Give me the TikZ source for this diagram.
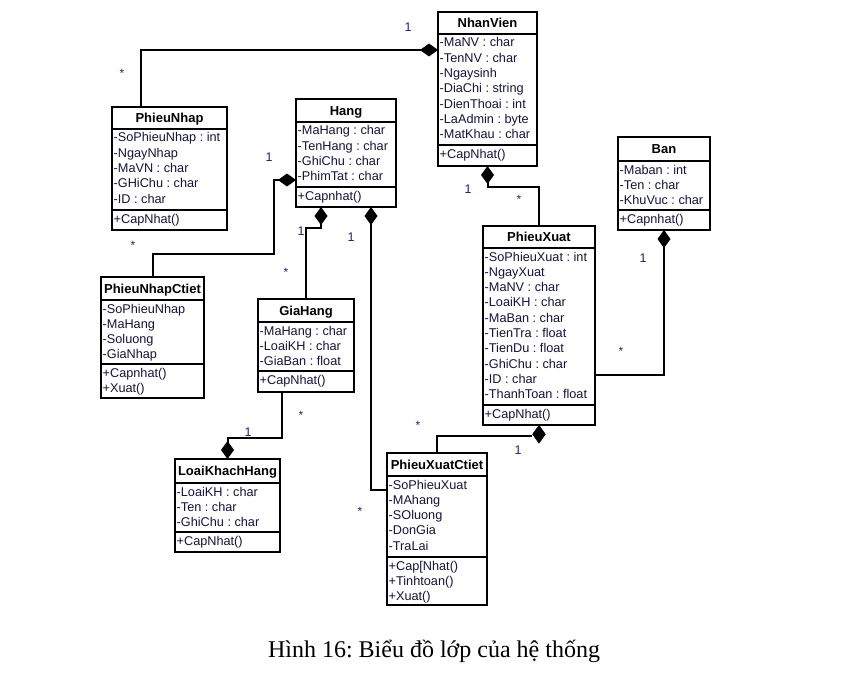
\documentclass[tikz,border=0pt]{standalone}
\usepackage{fontspec}
\setmainfont{Liberation Serif}
\newfontfamily\arialf{Liberation Sans}
\usetikzlibrary{arrows.meta,shapes.geometric,fit}
\definecolor{attrcol}{RGB}{20,20,60}
\definecolor{multcol}{RGB}{25,35,125}
\frenchspacing
\tikzset{
  classbox/.style={draw=black, line width=2pt, inner sep=0pt, outer sep=0pt},
  sepline/.style={draw=black, line width=2pt},
  titletext/.style={anchor=base, inner sep=0pt, font=\arialf\bfseries\fontsize{13}{15}\selectfont, text=black},
  rowtext/.style={anchor=base west, inner sep=0pt, font=\arialf\fontsize{12.7}{15}\selectfont, text=attrcol},
  conn/.style={draw=black, line width=2pt},
  compd/.style={diamond, fill=black, draw=black, line width=0.5pt, inner sep=0pt, minimum width=13pt, minimum height=18pt},
  multone/.style={inner sep=0pt, font=\arialf\fontsize{12.5}{15}\selectfont, text=multcol},
  multmany/.style={inner sep=0pt, font=\arialf\fontsize{12}{14}\selectfont, text=multcol},
  caption/.style={anchor=base, inner sep=0pt, font=\fontsize{24}{28}\selectfont, text=black}
}
\newcommand\umlclass[8]{%
  \coordinate (#1-nw) at (#2,#3);
  \coordinate (#1-se) at (#4,#5);
  \node[classbox, fit=(#1-nw)(#1-se)] (#1) {};
  \draw[sepline] (#2,#6) -- (#4,#6);
  \draw[sepline] (#2,#7) -- (#4,#7);
  \node[titletext] (#1-title) at ({(#2+#4)/2},{(#3+#6)/2+4.7}) {#8};
}
\newcommand\umlrows[4]{%
  \foreach \t [count=\i from 0] in {#4} {
    \node[rowtext] (#1-\i) at ({#2+1.5},{#3+13+15.3*\i}) {\t};
  }
}
\begin{document}
\begin{tikzpicture}[x=1pt,y=-1pt]
\fill[white] (0,0) rectangle (856,674);
\useasboundingbox (0,0) rectangle (856,674);

% classes
\umlclass{nv}{438}{12}{537}{166}{34}{145}{NhanVien}
\umlrows{nva}{438}{34}{-MaNV : char,-TenNV : char,-Ngaysinh,-DiaChi : string,-DienThoai : int,-LaAdmin : byte,-MatKhau : char}
\umlrows{nvm}{438}{145}{+CapNhat()}

\umlclass{pn}{112}{107}{227}{230}{129}{210}{PhieuNhap}
\umlrows{pna}{112}{129}{-SoPhieuNhap : int,-NgayNhap,-MaVN : char,-GHiChu : char,-ID : char}
\umlrows{pnm}{112}{210}{+CapNhat()}

\umlclass{hang}{296}{99}{396}{207}{122}{187}{Hang}
\umlrows{hanga}{296}{122}{-MaHang : char,-TenHang : char,-GhiChu : char,-PhimTat : char}
\umlrows{hangm}{296}{187}{+Capnhat()}

\umlclass{ban}{618}{137}{710}{230}{161}{210}{Ban}
\umlrows{bana}{618}{161}{-Maban : int,-Ten : char,-KhuVuc : char}
\umlrows{banm}{618}{210}{+Capnhat()}

\umlclass{px}{483}{226}{595}{425}{248}{405}{PhieuXuat}
\umlrows{pxa}{483}{248}{-SoPhieuXuat : int,-NgayXuat,-MaNV : char,-LoaiKH : char,-MaBan : char,-TienTra : float,-TienDu : float,-GhiChu : char,-ID : char,-ThanhToan : float}
\umlrows{pxm}{483}{405}{+CapNhat()}

\umlclass{pnc}{101}{277}{204}{398}{300}{364}{PhieuNhapCtiet}
\umlrows{pnca}{101}{300}{-SoPhieuNhap,-MaHang,-Soluong,-GiaNhap}
\umlrows{pncm}{101}{364}{+Capnhat(),+Xuat()}

\umlclass{gh}{258}{299}{354}{392}{322}{371}{GiaHang}
\umlrows{gha}{258}{322}{-MaHang : char,-LoaiKH : char,-GiaBan : float}
\umlrows{ghm}{258}{371}{+CapNhat()}

\umlclass{lkh}{175}{459}{280}{552}{483}{532}{LoaiKhachHang}
\umlrows{lkha}{175}{483}{-LoaiKH : char,-Ten : char,-GhiChu : char}
\umlrows{lkhm}{175}{532}{+CapNhat()}

\umlclass{pxc}{387}{453}{487}{605}{476}{557}{PhieuXuatCtiet}
\umlrows{pxca}{387}{476}{-SoPhieuXuat,-MAhang,-SOluong,-DonGia,-TraLai}
\umlrows{pxcm}{387}{557}{{+Cap[Nhat()},+Tinhtoan(),+Xuat()}

% connectors
\draw[conn, {Diamond[length=18pt,width=13pt]}-] ([yshift=-38pt]nv.north west) -| ([xshift=29pt]pn.north west);
\draw[conn, {Diamond[length=18pt,width=13pt]}-] ([yshift=-81pt]hang.north west) -- ++(-22,0) |- ([yshift=23pt]pnc.north) -- (pnc.north);
\draw[conn, {Diamond[length=18pt,width=13pt]}-] ([xshift=-25pt]hang.south) -- ++(0,21) -| (gh.north);
\draw[conn, {Diamond[length=18pt,width=13pt]}-] ([xshift=25pt]hang.south) |- ([yshift=-37pt]pxc.north west);
\draw[conn, -{Diamond[length=18pt,width=13pt]}] ([xshift=-24pt]gh.south) |- ([yshift=21pt]lkh.north) -- (lkh.north);
\draw[conn, {Diamond[length=18pt,width=13pt]}-] (nv.south) -- ++(0,21) -| (px.north);
\draw[conn, {Diamond[length=18pt,width=13pt]}-] (ban.south) |- ([yshift=-149pt]px.north east);
\node[compd, anchor=north] (dpx) at (px.south) {};
\draw[conn] ([yshift=-2pt]dpx.west) -| (pxc.north);

% multiplicities
\node[multone] (m1) at (408,27) {1};
\node[multmany] (m2) at (122,73) {*};
\node[multone] (m3) at (269,157) {1};
\node[multmany] (m4) at (133,245) {*};
\node[multone] (m5) at (301,231) {1};
\node[multmany] (m6) at (286,272) {*};
\node[multone] (m7) at (351,237) {1};
\node[multmany] (m8) at (360,511) {*};
\node[multone] (m9) at (248,432) {1};
\node[multmany] (m10) at (301,415) {*};
\node[multone] (m11) at (468,189) {1};
\node[multmany] (m12) at (519,199) {*};
\node[multone] (m13) at (643,258) {1};
\node[multmany] (m14) at (621,351) {*};
\node[multone] (m15) at (518,450) {1};
\node[multmany] (m16) at (418,425) {*};

% caption
\node[caption] (cap) at (434,657) {Hình 16: Biểu đồ lớp của hệ thống};
\end{tikzpicture}
\end{document}
